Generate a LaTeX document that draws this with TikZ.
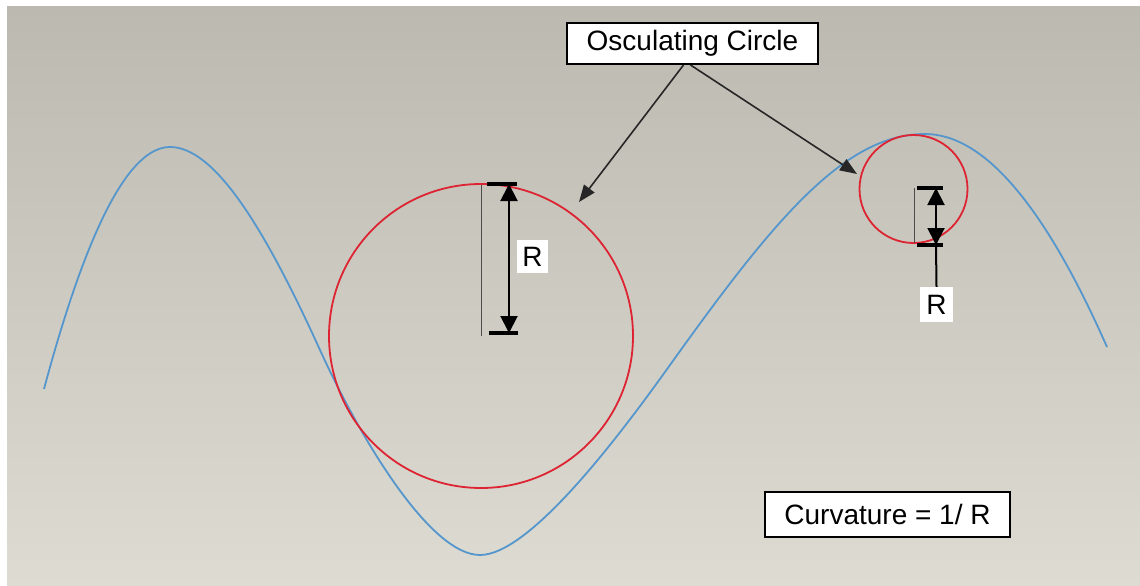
\documentclass[tikz,border=0pt]{standalone}
\usepackage{fontspec}
\setmainfont{Liberation Sans}
\usetikzlibrary{arrows.meta}
\definecolor{bgtop}{RGB}{188,186,176}
\definecolor{bgbot}{RGB}{221,219,210}
\definecolor{curveblue}{RGB}{85,150,205}
\definecolor{circred}{RGB}{222,35,50}
\begin{document}
\begin{tikzpicture}[x=1pt,y=-1pt,
  labelbox/.style={draw=black,line width=2pt,fill=white,inner sep=0pt,font=\fontsize{28}{32}\selectfont},
  rbox/.style={fill=white,inner sep=0pt,font=\fontsize{28}{32}\selectfont},
  leader/.style={line width=1.6pt,draw=black!85,-{Triangle[length=17pt,width=13pt]}},
  dimline/.style={line width=2pt,{Triangle[length=17pt,width=17pt]}-{Triangle[length=17pt,width=17pt]}},
  dimbar/.style={line width=4pt},
  extline/.style={line width=1pt,draw=black!70},
  curve/.style={line width=1.8pt,draw=curveblue},
  osc/.style={line width=1.8pt,draw=circred}]
\useasboundingbox (0,0) rectangle (1140,586);
\fill[white] (0,0) rectangle (1140,586);
\shade[top color=bgtop,bottom color=bgbot] (7,7) rectangle (1140,586);

% curve
\draw[curve] (44,389) .. controls (87.3,227.7) and (129.3,147) .. (170,147)
  .. controls (215,147) and (265,229) .. (320,350)
  .. controls (360,438) and (430,555) .. (480,555)
  .. controls (530,555) and (620,435) .. (670,365)
  .. controls (775,218) and (845,134) .. (925,134)
  .. controls (983.7,134) and (1044.3,205) .. (1107,347);

% osculating circles
\draw[osc] (481,336) circle[radius=152];
\draw[osc] (913.5,189) circle[radius=54];

% big dimension
\coordinate (bigc) at (481,336);
\coordinate (bigtop) at (509,184);
\coordinate (bigbot) at (509,333);
\draw[extline] (481,185) -- (bigc);
\draw[dimbar] (487,184) -- (517,184);
\draw[dimbar] (489,333) -- (518,333);
\draw[dimline] (bigtop) -- (bigbot);
\node[rbox,minimum width=31pt,minimum height=33pt] (rbig) at (532.5,256.5) {R};

% small dimension
\coordinate (smtop) at (936,188);
\coordinate (smbot) at (936,245);
\draw[extline] (914,188) -- (914,243);
\draw[dimbar] (917,188) -- (943,188);
\draw[dimbar] (917,245) -- (943,245);
\draw[dimline] (smtop) -- (smbot);
\node[rbox,minimum width=33pt,minimum height=35pt] (rsmall) at (936.5,304.5) {R};
\draw[line width=2pt] (smbot) -- (rsmall.north);

% labels
\node[labelbox,minimum width=251pt,minimum height=41pt] (osclabel) at (692.5,43.5) {Osculating Circle};
\node[labelbox,minimum width=245pt,minimum height=45pt] (curv) at (887.5,514.5) {Curvature = 1/ R};

\coordinate (tipbig) at (579,202);
\coordinate (tipsmall) at (857,174);
\draw[leader] ([xshift=-9pt]osclabel.south) -- (tipbig);
\draw[leader] ([xshift=-2pt]osclabel.south) -- (tipsmall);
\end{tikzpicture}
\end{document}
